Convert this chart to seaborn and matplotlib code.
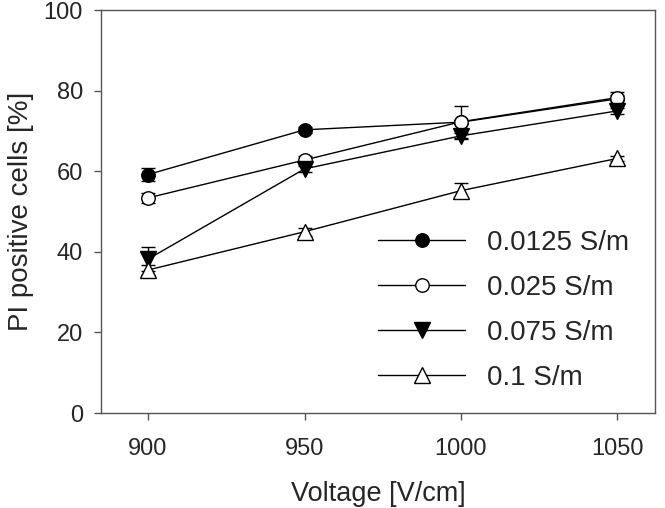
import matplotlib
matplotlib.use("Agg")
import matplotlib.pyplot as plt
import seaborn as sns
import pandas as pd
import numpy as np

sns.set_style("ticks")
plt.rcParams['font.family'] = ['Liberation Sans', 'DejaVu Sans']

voltage = [900, 950, 1000, 1050]
labels = ["0.0125 S/m", "0.025 S/m", "0.075 S/m", "0.1 S/m"]
s1 = [59.2, 70.3, 72.2, 78.0]
s2 = [53.4, 62.8, 72.3, 78.3]
s3 = [38.2, 60.6, 68.8, 75.0]
s4 = [35.5, 45.0, 55.2, 63.2]
e1 = [1.5, 0.8, 0.5, 1.0]
e2 = [1.3, 1.0, 4.0, 1.5]
e3 = [3.0, 0.8, 0.8, 0.8]
e4 = [1.3, 1.0, 1.8, 0.6]

series = [s1, s2, s3, s4]
errs = [e1, e2, e3, e4]
markers = ["o", "o", "v", "^"]
faces = ["black", "white", "black", "white"]

fig = plt.figure(figsize=(6.65, 5.08), dpi=100)
ax = fig.add_axes([0.152, 0.187, 0.833, 0.793])

for lab, ys, es, m, fc in zip(labels, series, errs, markers, faces):
    df = pd.DataFrame({"Voltage": voltage, "PI": ys})
    ax.errorbar(voltage, ys, yerr=es, fmt="none", ecolor="black",
                elinewidth=1, capsize=4.7, capthick=1, zorder=2)
    sns.lineplot(data=df, x="Voltage", y="PI", ax=ax, color="black",
                 linewidth=1, marker=m, markersize=9.7 if m == "o" else 11.5,
                 markerfacecolor=fc, markeredgecolor="black",
                 markeredgewidth=1, label=lab, zorder=3)

ax.set_xlim(885, 1062)
ax.set_ylim(0, 100)
ax.set_xticks([900, 950, 1000, 1050])
ax.set_yticks([0, 20, 40, 60, 80, 100])
ax.tick_params(labelsize=17, length=5, width=1, color="#555555", direction="out")
ax.tick_params(axis="x", pad=13)
ax.tick_params(axis="y", pad=8)
ax.set_xlabel("Voltage [V/cm]", fontsize=19.5, labelpad=15)
ax.set_ylabel("PI positive cells [%]", fontsize=20, labelpad=7)
for sp in ax.spines.values():
    sp.set_visible(True)
    sp.set_color("#555555")
    sp.set_linewidth(1)

leg = ax.legend(loc="center left", bbox_to_anchor=(0.455, 0.255), frameon=False,
                fontsize=20, handlelength=3.13, handletextpad=0.8,
                labelspacing=0.69, borderpad=0.4)

fig.savefig("out.png", dpi=100)
